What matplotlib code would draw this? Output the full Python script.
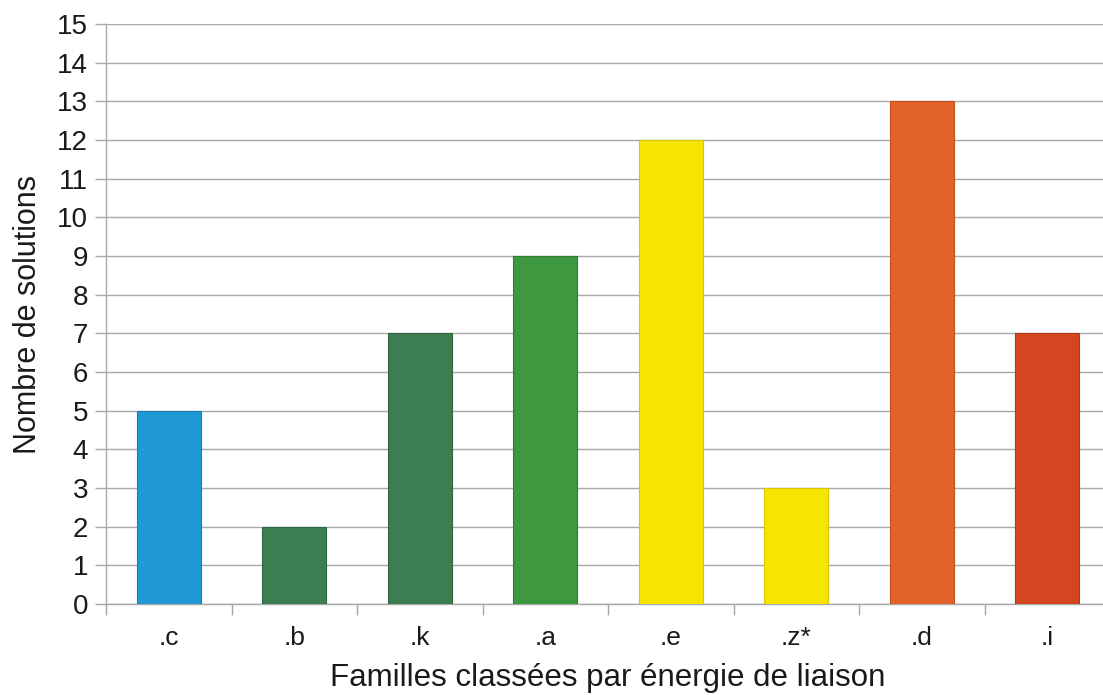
import matplotlib
matplotlib.use("Agg")
import matplotlib.pyplot as plt
import matplotlib.ticker as ticker
import numpy as np

# ── Data ─────────────────────────────────────────────────────────────────────
familles = [".c", ".b", ".k", ".a", ".e", ".z*", ".d", ".i"]
solutions = [5, 2, 7, 9, 12, 3, 13, 7]
couleurs = ["#1F9AD6", "#3C7D52", "#3C7D52", "#3E983F",
            "#F6E500", "#F6E500", "#E1632A", "#D4461F"]
bords = ["#1A7FB0", "#2F6542", "#2F6542", "#327C33",
         "#D8C800", "#D8C800", "#C05020", "#B03815"]

GRID = "#A8A8A8"
TEXT = "#1A1A1A"

plt.rcParams["font.family"] = ["Liberation Sans", "DejaVu Sans"]

fig = plt.figure(figsize=(11.03, 6.95), dpi=100)
ax = fig.add_axes([106 / 1103, 91 / 695, 1004 / 1103, 580 / 695])

x = np.arange(len(familles))
ax.bar(x, solutions, width=0.51, color=couleurs, edgecolor=bords,
       linewidth=0.8, zorder=3)

ax.set_xlim(-0.5, len(familles) - 0.5)
ax.set_ylim(0, 15)

# Gridlines
ax.yaxis.set_major_locator(ticker.MultipleLocator(1))
ax.yaxis.grid(True, color=GRID, linewidth=1.0, zorder=0)
ax.set_axisbelow(True)

# Spines
for s in ["top", "right"]:
    ax.spines[s].set_visible(False)
for s in ["left", "bottom"]:
    ax.spines[s].set_color(GRID)
    ax.spines[s].set_linewidth(1.0)

# X ticks: labels at centres, tick marks at boundaries
ax.set_xticks(x)
ax.set_xticklabels(familles)
ax.set_xticks(np.arange(-0.5, len(familles) + 0.5, 1), minor=True)
ax.tick_params(axis="x", which="major", length=0, pad=16,
               labelsize=19, colors=TEXT)
ax.tick_params(axis="x", which="minor", length=8, width=1.0, color=GRID)
ax.tick_params(axis="y", length=8, width=1.0, color=GRID, pad=5,
               labelsize=20, labelcolor=TEXT)

ax.set_xlabel("Familles classées par énergie de liaison",
              fontsize=22.5, color=TEXT, labelpad=9)
ax.set_ylabel("Nombre de solutions", fontsize=22, color=TEXT, labelpad=10)

fig.savefig("out.png", dpi=100, facecolor="white")
